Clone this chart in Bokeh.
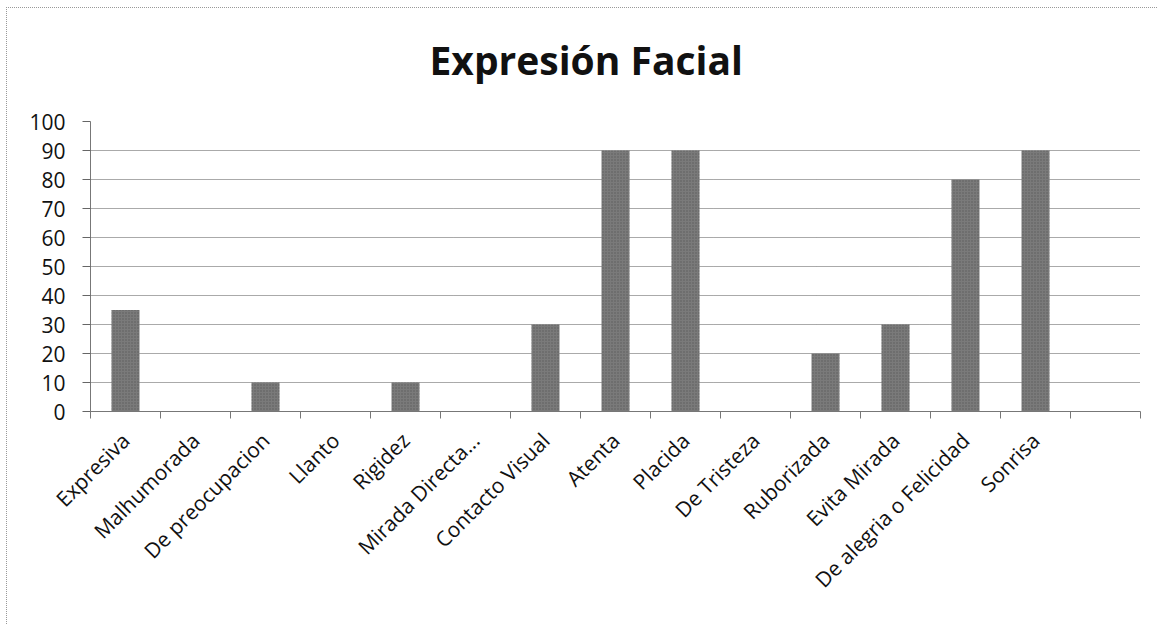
from bokeh.plotting import figure
from bokeh.models import ColumnDataSource, Range1d, FixedTicker
from bokeh.embed import file_html
from bokeh.resources import INLINE
import math

categories = ["Expresiva", "Malhumorada", "De preocupacion", "Llanto", "Rigidez",
              "Mirada Directa...", "Contacto Visual", "Atenta", "Placida", "De Tristeza",
              "Ruborizada", "Evita Mirada", "De alegria o Felicidad", "Sonrisa", ""]
values = [35, 0, 10, 0, 10, 0, 30, 90, 90, 0, 20, 30, 80, 90, 0]
y_ticks = [0, 10, 20, 30, 40, 50, 60, 70, 80, 90, 100]
title_text = "Expresión Facial"

n = len(categories)
xs = list(range(n))
src = ColumnDataSource(dict(x=xs, top=values, name=categories))

FONT = "Open Sans"

p = figure(width=1151, height=617, output_backend="svg", toolbar_location=None,
           x_range=Range1d(-0.5, n - 0.5), y_range=Range1d(0, 100),
           min_border_left=83, min_border_right=18, min_border_top=113, min_border_bottom=214)
p.outline_line_color = None

# a blank second line lifts the title away from the plot frame
p.title.text = title_text + "\n "
p.title.text_font = FONT
p.title.text_font_size = "39px"
p.title.text_font_style = "bold"
p.title.text_line_height = 0.65
p.title.align = "left"
p.title.offset = 339
p.title.standoff = 3
p.title.text_color = "#111111"

p.vbar(x="x", top="top", width=0.4, source=src, fill_color="#7a7a7a", line_color=None,
       hatch_pattern="dot", hatch_color="#444444", hatch_scale=3, hatch_alpha=0.6)

# x axis
p.xaxis.ticker = FixedTicker(ticks=xs, minor_ticks=[i - 0.5 for i in range(n + 1)])
p.xaxis.major_label_overrides = {i: c for i, c in enumerate(categories)}
p.xaxis.major_label_orientation = math.pi / 4
p.xaxis.major_tick_out = 0
p.xaxis.major_tick_in = 0
p.xaxis.minor_tick_out = 7
p.xaxis.minor_tick_in = 0
p.xaxis.minor_tick_line_color = "#777777"
p.xaxis.axis_line_color = "#777777"
p.xaxis.major_label_text_font = FONT
p.xaxis.major_label_text_font_size = "21px"
p.xaxis.major_label_text_color = "#111111"
p.xaxis.major_label_standoff = 18

# y axis
p.yaxis.ticker = FixedTicker(ticks=y_ticks)
p.yaxis.major_tick_out = 8
p.yaxis.major_tick_in = 0
p.yaxis.minor_tick_line_color = None
p.yaxis.major_tick_line_color = "#666666"
p.yaxis.axis_line_color = "#777777"
p.yaxis.major_label_text_font = FONT
p.yaxis.major_label_text_font_size = "21px"
p.yaxis.major_label_text_color = "#111111"
p.yaxis.major_label_standoff = 17

p.xgrid.grid_line_color = None
p.ygrid.grid_line_color = "#555555"
p.ygrid.grid_line_width = 1
p.ygrid.grid_line_dash = "1 1"

p.styles = {"border-top": "1px dotted #999999", "border-left": "1px dotted #999999",
            "margin-left": "6px", "margin-top": "7px"}

open("out.html", "w").write(file_html(p, INLINE))
